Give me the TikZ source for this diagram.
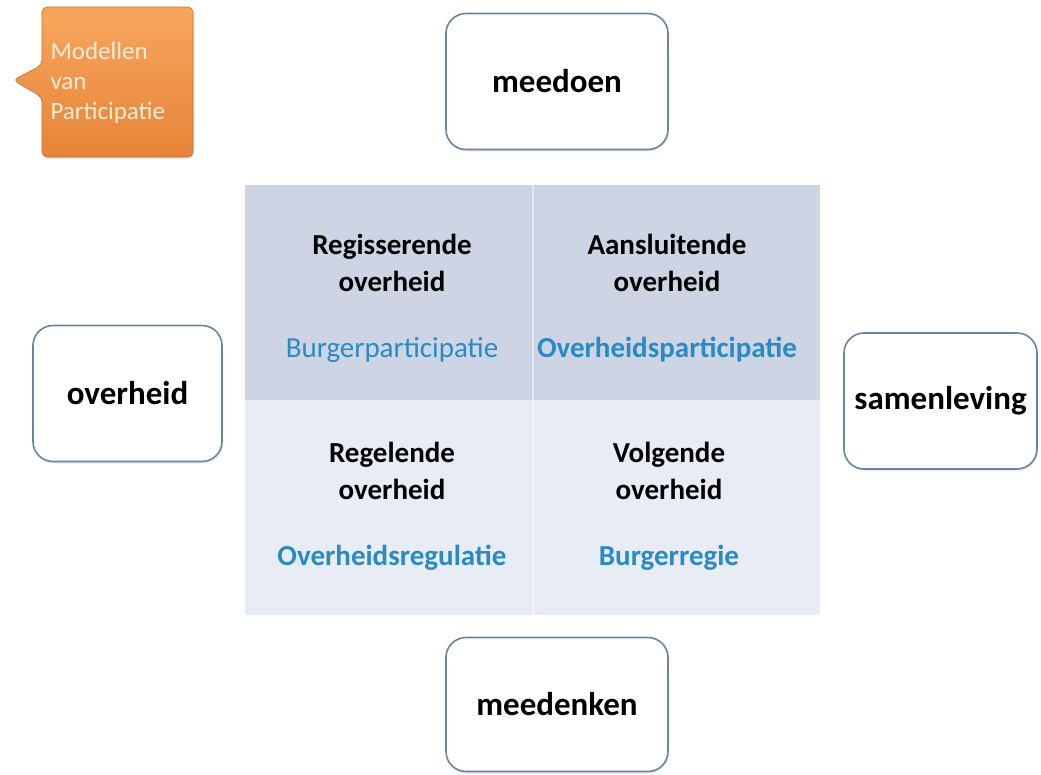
\documentclass[tikz,border=0pt]{standalone}
\usepackage{fontspec}
\setmainfont{Carlito}
\usepackage{tikz}
\usetikzlibrary{shadows}

\definecolor{rowtop}{RGB}{205,212,227}
\definecolor{rowbot}{RGB}{232,236,244}
\definecolor{boxline}{RGB}{104,132,165}
\definecolor{partblue}{RGB}{41,138,198}
\definecolor{calltop}{RGB}{248,166,94}
\definecolor{callbot}{RGB}{230,132,56}
\definecolor{calltext}{RGB}{253,236,218}

\begin{document}
\begin{tikzpicture}[x=1pt, y=-1pt,
  sidebox/.style={draw=boxline, line width=1.6pt, fill=white, rounded corners=20pt,
    font=\fontsize{33}{40}\selectfont\bfseries,
    drop shadow={shadow xshift=1pt, shadow yshift=-2pt, opacity=0.15}},
  cell/.style={align=center, font=\fontsize{29}{37}\selectfont\bfseries},
  part/.style={text=partblue, font=\fontsize{29}{35}\selectfont\bfseries}]
  \useasboundingbox (0,0) rectangle (1041,774);
  \fill[white] (0,0) rectangle (1041,774);

  % callout
  \path[draw=callbot!85!black, line width=0.6pt, top color=calltop, bottom color=callbot,
    rounded corners=5pt, drop shadow={shadow xshift=1pt, shadow yshift=-2pt, opacity=0.2}]
    (13,80) -- (42,65) -- (42,7) -- (193,7) -- (193,157) -- (42,157) -- (42,97) -- cycle;
  \node[anchor=west, align=left, text=calltext, font=\fontsize{25}{30}\selectfont]
    (callout) at (47,83) {Modellen\\van\\Participatie};

  % the four boxes
  \node[sidebox, minimum width=222pt, minimum height=136pt] (meedoen) at (557,81.5) {meedoen};
  \node[sidebox, minimum width=189pt, minimum height=136pt] (overheid) at (127.5,393.5) {overheid};
  \node[sidebox, minimum width=193pt, minimum height=136pt, inner sep=0pt] (samenleving) at (940.5,401) {samenleving};
  \node[sidebox, minimum width=222pt, minimum height=134pt] (meedenken) at (557,704.5) {meedenken};

  % grid
  \fill[rowtop] (245,185) rectangle (820,400);
  \fill[rowbot] (245,400) rectangle (820,615);
  \draw[white, opacity=0.5, line width=1.5pt] (533,185) -- (533,615);

  \node[cell] (regisserend) at (392,263) {Regisserende\\overheid};
  \node[cell] (aansluitend) at (667,263) {Aansluitende\\overheid};
  \node[cell] (regelend) at (392,471) {Regelende\\overheid};
  \node[cell] (volgend) at (669,471) {Volgende\\overheid};

  \node[part, font=\fontsize{29}{35}\selectfont] (burgerpart) at (392,350) {Burgerparticipatie};
  \node[part] (overheidspart) at (667,350) {Overheidsparticipatie};
  \node[part] (overheidsreg) at (392,558) {Overheidsregulatie};
  \node[part] (burgerregie) at (669,558) {Burgerregie};
\end{tikzpicture}
\end{document}
